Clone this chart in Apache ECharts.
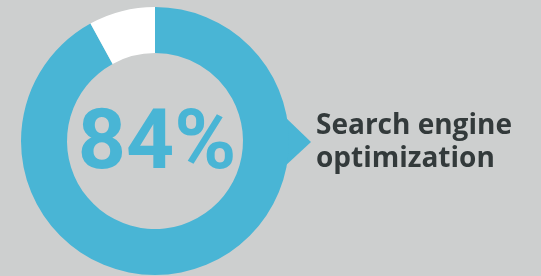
<!DOCTYPE html>
<html>
<head>
    <meta charset="utf-8">
    <style>
        html, body { margin: 0; padding: 0; background: #cdcfcf; }
        #main { width: 541px; height: 276px; }
    </style>
    <script src="https://cdn.jsdelivr.net/npm/echarts@6/dist/echarts.min.js"></script>
</head>
<body>
    <div id="main"></div>
    <script type="text/javascript">
        // data
        var percentLabel = '84%';
        var caption = ['Search engine', 'optimization'];
        var sliceNames = ['filled', 'rest'];
        var sliceValues = [92, 8];
        var sliceColors = ['#49b5d5', '#ffffff'];

        var myChart = echarts.init(document.getElementById('main'));

        var pieData = sliceNames.map(function (n, i) {
            return { name: n, value: sliceValues[i], itemStyle: { color: sliceColors[i] } };
        });

        var option = {
            backgroundColor: '#cdcfcf',
            animation: false,
            series: [{
                type: 'pie',
                center: [155, 141],
                radius: [88, 134],
                startAngle: 90,
                clockwise: true,
                silent: true,
                label: { show: false },
                labelLine: { show: false },
                data: pieData
            }],
            graphic: [{
                // pointer on the right of the ring
                type: 'polygon',
                shape: { points: [[284, 116], [311, 142], [284, 167]] },
                style: { fill: '#49b5d5' }
            }, {
                type: 'text',
                x: 157,
                y: 147,
                style: {
                    text: percentLabel,
                    fill: '#49b5d5',
                    fontFamily: 'Roboto',
                    fontWeight: 'bold',
                    fontSize: 84,
                    align: 'center',
                    verticalAlign: 'middle'
                }
            }, {
                type: 'text',
                x: 316,
                y: 110,
                style: {
                    text: caption.join('\n'),
                    fill: '#333a3b',
                    fontFamily: 'Open Sans',
                    fontWeight: 'bold',
                    fontSize: 28,
                    lineHeight: 33,
                    align: 'left'
                }
            }]
        };

        myChart.setOption(option);
    </script>
</body>
</html>
